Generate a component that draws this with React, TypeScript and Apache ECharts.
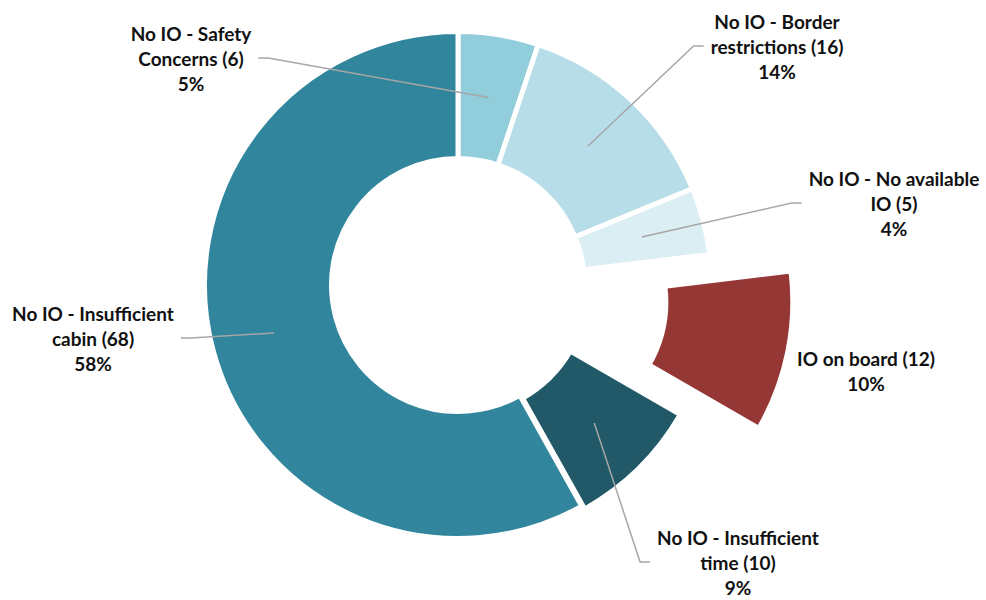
import React, { useEffect, useRef } from "react";
import * as echarts from "echarts";

// ---- data ----
const categories = [
  "No IO - Safety Concerns",
  "No IO - Border restrictions",
  "No IO - No available IO",
  "IO on board",
  "No IO - Insufficient time",
  "No IO - Insufficient cabin",
];
const values = [6, 16, 5, 12, 10, 68];
const colors = ["#92CDDC", "#B7DEE8", "#DAEEF3", "#953735", "#215968", "#31859C"];

// ---- layout ----
const CX = 458;
const CY = 285;
const R_IN = 126.5;
const R_OUT = 253.5;
const EXPLODE = [0, 0, 0, 83, 4, 0];
const WRAP_AFTER = [4, 4, 5, 99, 4, 4];
const LABEL_POS = [
  [191, 58],
  [777, 46],
  [894, 203],
  [866, 371],
  [738, 562],
  [93, 338],
];
const LEADER = [true, true, true, false, true, true];
const FONT_SIZE = 19;
const LINE_H = 25;
const FONT_FAMILY = "Lato";

export default function App() {
  const ref = useRef<HTMLDivElement>(null);
  useEffect(() => {
    document.body.style.margin = "0";
    if (!ref.current) return;
    const chart = echarts.init(ref.current, undefined, { renderer: "svg" });
    const total = values.reduce((a, b) => a + b, 0);
    let acc = 0;
    const mids = values.map((v) => {
      const m = ((acc + v / 2) / total) * 2 * Math.PI;
      acc += v;
      return m;
    });
    const centers = values.map((_, i) => [
      CX + EXPLODE[i] * Math.sin(mids[i]),
      CY - EXPLODE[i] * Math.cos(mids[i]),
    ]);
    const rMid = (R_IN + R_OUT) / 2;
    const centroids = values.map((_, i) => [
      centers[i][0] + rMid * Math.sin(mids[i]),
      centers[i][1] - rMid * Math.cos(mids[i]),
    ]);
    const labelText = (i: number) => {
      const words = categories[i].split(" ");
      const l1 = words.slice(0, WRAP_AFTER[i]).join(" ");
      const rest = words.slice(WRAP_AFTER[i]).join(" ");
      const pct = Math.round((values[i] / total) * 100);
      const head = rest ? `${l1}\n${rest} (${values[i]})` : `${l1} (${values[i]})`;
      return `${head}\n${pct}%`;
    };

    const ctx = document.createElement("canvas").getContext("2d")!;
    ctx.font = `bold ${FONT_SIZE}px ${FONT_FAMILY}`;
    const blockWidth = (i: number) =>
      Math.max(...labelText(i).split("\n").map((s) => ctx.measureText(s).width));

    const leaders: any[] = [];
    values.forEach((_, i) => {
      if (!LEADER[i]) return;
      const [lx, ly] = LABEL_POS[i];
      const [px, py] = centroids[i];
      const w = blockWidth(i);
      const left = px < lx;
      const ex = left ? lx - w / 2 - 7 : lx + w / 2 + 7;
      const hx = left ? ex - 10 : ex + 10;
      leaders.push({
        type: "polyline",
        z: 10,
        silent: true,
        shape: {
          points: [
            [ex, ly],
            [hx, ly],
            [px, py],
          ],
        },
        style: { stroke: "#A6A6A6", lineWidth: 1.5, fill: null },
      });
    });

    const series = values.map((_, i) => ({
      type: "pie",
      silent: true,
      radius: [R_IN, R_OUT],
      center: centers[i],
      startAngle: 90,
      clockwise: true,
      avoidLabelOverlap: false,
      emphasis: { disabled: true },
      label: {
        position: "outside",
        formatter: (p: any) => labelText(p.dataIndex),
        fontFamily: FONT_FAMILY,
        fontWeight: "bold",
        fontSize: FONT_SIZE,
        lineHeight: LINE_H,
        color: "#111111",
        align: "center",
      },
      labelLine: { show: false },
      labelLayout: (p: any) => {
        if (p.dataIndex !== i) return {};
        const [lx, ly] = LABEL_POS[i];
        return { x: lx, y: ly, align: "center", verticalAlign: "middle" };
      },
      data: values.map((v, j) => ({
        name: categories[j],
        value: v,
        itemStyle:
          j === i
            ? { color: colors[j], borderColor: "#ffffff", borderWidth: 5 }
            : { color: "rgba(0,0,0,0)", borderWidth: 0 },
        label: { show: j === i },
      })),
    }));

    chart.setOption({
      animation: false,
      backgroundColor: "#ffffff",
      graphic: { elements: leaders },
      series,
    } as any);
    return () => chart.dispose();
  }, []);
  return <div ref={ref} style={{ width: 986, height: 600 }} />;
}
